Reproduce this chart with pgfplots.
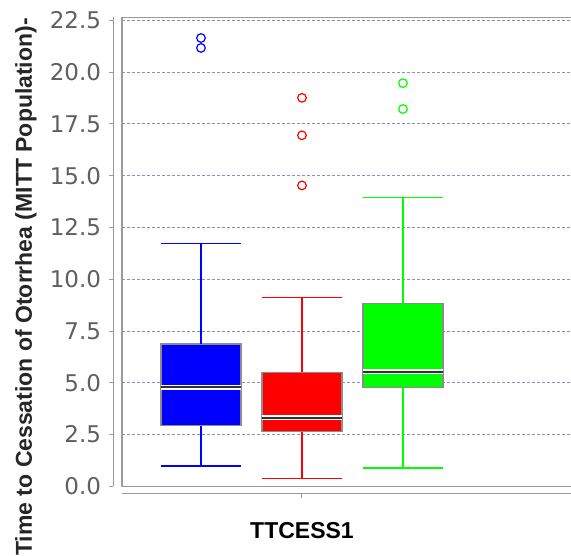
\documentclass[border=0pt]{standalone}
\usepackage{pgfplots}
\pgfplotsset{compat=1.18}
\usepackage{fontspec}
\setmainfont{Liberation Sans}
\newfontfamily\tickfont{DejaVu Sans}
\definecolor{gridc}{RGB}{140,140,200}
\definecolor{framec}{RGB}{155,155,155}
\definecolor{boxc}{RGB}{140,140,140}
\definecolor{tickc}{RGB}{95,95,95}
\definecolor{medc}{RGB}{50,50,50}
\definecolor{cblue}{RGB}{0,0,255}
\definecolor{cred}{RGB}{255,0,0}
\definecolor{cgreen}{RGB}{0,255,0}
\pgfplotsset{
  whisk/.style={line width=1.4bp, mark=none, forget plot},
  boxs/.style={draw=boxc, line width=1.3bp, mark=none, forget plot},
  med/.style={draw=white, line width=1.5bp, double=medc, double distance=2bp, mark=none, forget plot},
  outl/.style={only marks, mark=o, mark size=4.3bp, mark options={solid, line width=1.2bp}, forget plot},
}
\begin{document}
\begin{tikzpicture}
\path[use as bounding box] (0,0) rectangle (571bp,556bp);
\begin{axis}[
  anchor=south west, at={(122bp,69.7bp)},
  scale only axis, width=455bp, height=469bp,
  xmin=0.218, xmax=4.723, ymin=0, ymax=22.65,
  clip=false,
  axis x line=bottom, axis y line=left,
  axis x line shift=7.5bp, axis y line shift=8.5bp,
  axis line style={-, draw=framec, line width=1.3bp},
  tick align=outside, major tick length=4bp,
  tick style={draw=framec, line width=1bp},
  xtick={2}, xticklabels={TTCESS1},
  xticklabel style={font=\bfseries\fontsize{23bp}{23bp}\selectfont, text=black, yshift=-21bp},
  ytick={0,2.5,5,7.5,10,12.5,15,17.5,20,22.5},
  /pgf/number format/fixed, /pgf/number format/fixed zerofill,
  /pgf/number format/precision=1, /pgf/number format/assume math mode=true,
  yticklabel style={font=\tickfont\fontsize{23bp}{23bp}\selectfont, text=tickc, xshift=-5bp},
  ymajorgrids,
  grid style={draw=gridc, dash pattern=on 2.5bp off 2.5bp, line width=0.9bp},
  ylabel={Time to Cessation of Otorrhea (MITT Population)-},
  every axis y label/.style={at={(rel axis cs:0,0.425)}, xshift=-96bp, rotate=90, anchor=center,
    font=\bfseries\fontsize{23bp}{23bp}\selectfont, text=black!85},
]
\draw[framec, line width=1.3bp] (rel axis cs:1,1) -- (rel axis cs:0,1) -- (rel axis cs:0,0) -- (rel axis cs:1,0);
% ---------- blue: lw 0.98, q1 2.95, med 4.78, q3 6.87, uw 11.73
\addplot[whisk, draw=cblue] coordinates {(1,2.95) (1,0.98) (0.605,0.98) (1.395,0.98)};
\addplot[boxs, fill=cblue] coordinates {(0.605,2.95) (1.395,2.95) (1.395,6.87) (0.605,6.87)} --cycle;
\addplot[med] coordinates {(0.605,4.78) (1.395,4.78)};
\addplot[whisk, draw=cblue] coordinates {(1,6.87) (1,11.73) (0.605,11.73) (1.395,11.73)};
\addplot[outl, cblue] coordinates {(1,21.17) (1,21.65)};
% ---------- red: lw 0.39, q1 2.64, med 3.31, q3 5.50, uw 9.11
\addplot[whisk, draw=cred] coordinates {(2,2.64) (2,0.39) (1.605,0.39) (2.395,0.39)};
\addplot[boxs, fill=cred] coordinates {(1.605,2.64) (2.395,2.64) (2.395,5.50) (1.605,5.50)} --cycle;
\addplot[med] coordinates {(1.605,3.31) (2.395,3.31)};
\addplot[whisk, draw=cred] coordinates {(2,5.50) (2,9.11) (1.605,9.11) (2.395,9.11)};
\addplot[outl, cred] coordinates {(2,14.53) (2,16.95) (2,18.76)};
% ---------- green: lw 0.88, q1 4.78, med 5.52, q3 8.84, uw 13.95
\addplot[whisk, draw=cgreen] coordinates {(3,4.78) (3,0.88) (2.605,0.88) (3.395,0.88)};
\addplot[boxs, fill=cgreen] coordinates {(2.605,4.78) (3.395,4.78) (3.395,8.84) (2.605,8.84)} --cycle;
\addplot[med] coordinates {(2.605,5.52) (3.395,5.52)};
\addplot[whisk, draw=cgreen] coordinates {(3,8.84) (3,13.95) (2.605,13.95) (3.395,13.95)};
\addplot[outl, cgreen] coordinates {(3,18.22) (3,19.47)};
\end{axis}
\end{tikzpicture}
\end{document}
